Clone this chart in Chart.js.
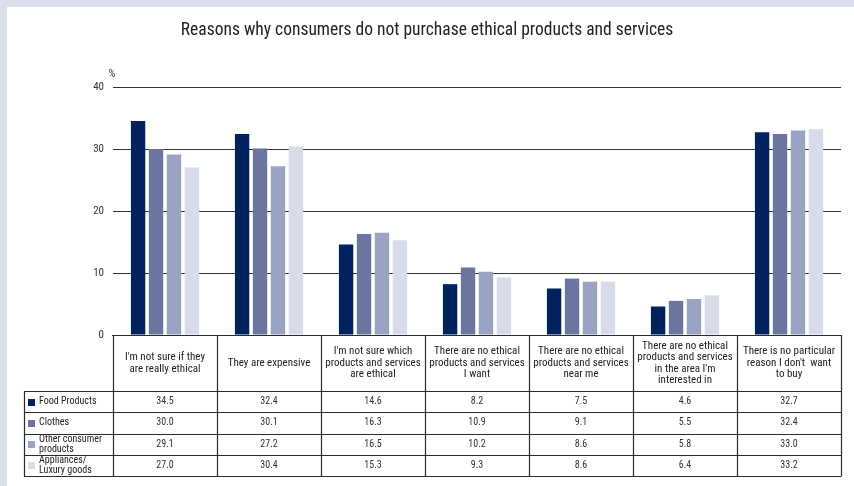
<!DOCTYPE html>
<html>
<head>
<meta charset="utf-8">
<script src="https://cdn.jsdelivr.net/npm/chart.js@4.4.1/dist/chart.umd.min.js"></script>
<style>
  html, body { margin: 0; padding: 0; }
  body { width: 854px; height: 486px; background: #dcdfec; position: relative; overflow: hidden; }
  #panel { position: absolute; left: 7px; top: 7px; width: 847px; height: 479px; background: #fff; }
  #wrap { position: absolute; left: 0; top: 0; width: 854px; height: 486px; }
</style>
</head>
<body>
<div id="panel"></div>
<div id="wrap"><canvas id="grafico" width="854" height="486"></canvas></div>
<script>
const titulo = "Reasons why consumers do not purchase ethical products and services";

const categorias = [
    ["I'm not sure if they", "are really ethical"],
    ["They are expensive"],
    ["I'm not sure which", "products and services", "are ethical"],
    ["There are no ethical", "products and services", "I want"],
    ["There are no ethical", "products and services", "near me"],
    ["There are no ethical", "products and services", "in the area I'm", "interested in"],
    ["There is no particular", "reason I don't  want", "to buy"]
];

const series = [
    ["Food Products"],
    ["Clothes"],
    ["Other consumer", "products"],
    ["Appliances/", "Luxury goods"]
];

const alimentos = [34.5, 32.4, 14.6, 8.2, 7.5, 4.6, 32.7];
const ropa = [30.0, 30.1, 16.3, 10.9, 9.1, 5.5, 32.4];
const otros = [29.1, 27.2, 16.5, 10.2, 8.6, 5.8, 33.0];
const electro = [27.0, 30.4, 15.3, 9.3, 8.6, 6.4, 33.2];

const ticksY = [0, 10, 20, 30, 40];

const colores = ["#00235f", "#6a75a0", "#9aa3c4", "#d8dbea"];
const fuente = "'Roboto Condensed', 'DejaVu Sans Condensed', sans-serif";
const valores = [alimentos, ropa, otros, electro];

// titulo centrado en todo el lienzo + tabla de datos debajo del eje
const tablaPlugin = {
    id: "tabla",
    afterDraw(chart) {
        const ctx = chart.ctx;
        const x = chart.scales.x;
        const area = chart.chartArea;
        const ancho = (area.right - area.left) / categorias.length;
        const top = area.bottom;
        const headerBottom = top + 56;
        const filaAlto = 21.25;
        const bottom = headerBottom + filaAlto * series.length;
        const izq = 24;

        ctx.save();
        ctx.textAlign = "center";
        ctx.textBaseline = "middle";
        ctx.fillStyle = "#222";
        ctx.font = "17.5px " + fuente;
        ctx.fillText(titulo, chart.width / 2, 31);

        ctx.strokeStyle = "#2a2a2a";
        ctx.lineWidth = 1.2;

        // %
        ctx.fillStyle = "#333";
        ctx.font = "11px " + fuente;
        ctx.fillText("%", area.left - 1, area.top - 13);

        // lineas horizontales
        ctx.beginPath();
        ctx.moveTo(area.left - 1, top + 0.5);
        ctx.lineTo(area.right, top + 0.5);
        for (let r = 0; r <= series.length; r++) {
            const y = Math.round(headerBottom + r * filaAlto) + 0.5;
            ctx.moveTo(izq, y);
            ctx.lineTo(area.right, y);
        }
        // lineas verticales
        ctx.moveTo(izq + 0.5, headerBottom);
        ctx.lineTo(izq + 0.5, Math.round(bottom) + 0.5);
        for (let i = 0; i <= categorias.length; i++) {
            const xv = Math.round(area.left + i * ancho) + 0.5;
            ctx.moveTo(xv, top);
            ctx.lineTo(xv, Math.round(bottom) + 0.5);
        }
        ctx.stroke();

        // encabezados
        ctx.fillStyle = "#222";
        ctx.font = "11px " + fuente;
        const lh = 11.5;
        categorias.forEach((lineas, i) => {
            const cx = x.getPixelForValue(i);
            const cy = (top + headerBottom) / 2;
            const y0 = cy - (lineas.length - 1) * lh / 2;
            lineas.forEach((t, k) => ctx.fillText(t, cx, y0 + k * lh));
        });

        // filas
        series.forEach((nombre, r) => {
            const cy = headerBottom + r * filaAlto + filaAlto / 2;
            ctx.fillStyle = colores[r];
            ctx.fillRect(izq + 4, Math.round(cy) - 3, 7, 7);
            ctx.fillStyle = "#222";
            ctx.font = "10px " + fuente;
            ctx.textAlign = "left";
            const y0 = cy - (nombre.length - 1) * 5;
            nombre.forEach((t, k) => ctx.fillText(t, izq + 15, y0 + k * 10));
            ctx.fillStyle = "#333";
            ctx.textAlign = "center";
            valores[r].forEach((v, i) => {
                ctx.fillText(v.toFixed(1), x.getPixelForValue(i), cy);
            });
        });
        ctx.restore();
    }
};

new Chart(document.getElementById("grafico").getContext("2d"), {
    type: "bar",
    data: {
        labels: categorias.map(c => c.join(" ")),
        datasets: series.map((s, i) => ({
            label: s.join(" "),
            data: valores[i],
            backgroundColor: colores[i],
            categoryPercentage: 0.69,
            barPercentage: 0.8
        }))
    },
    options: {
        responsive: false,
        animation: false,
        devicePixelRatio: 1,
        layout: { padding: { top: 87, right: 13, bottom: 151, left: 0 } },
        plugins: {
            legend: { display: false },
            tooltip: { enabled: false },
            title: { display: false }
        },
        scales: {
            x: { display: false },
            y: {
                min: 0,
                max: 40,
                afterBuildTicks: s => { s.ticks = ticksY.map(v => ({ value: v })); },
                afterFit: s => { s.width = 113; },
                border: { display: false },
                grid: { color: "#333", lineWidth: 1, drawTicks: false },
                ticks: { color: "#333", font: { family: fuente, size: 11 }, padding: 9 }
            }
        }
    },
    plugins: [tablaPlugin]
});
</script>
</body>
</html>
